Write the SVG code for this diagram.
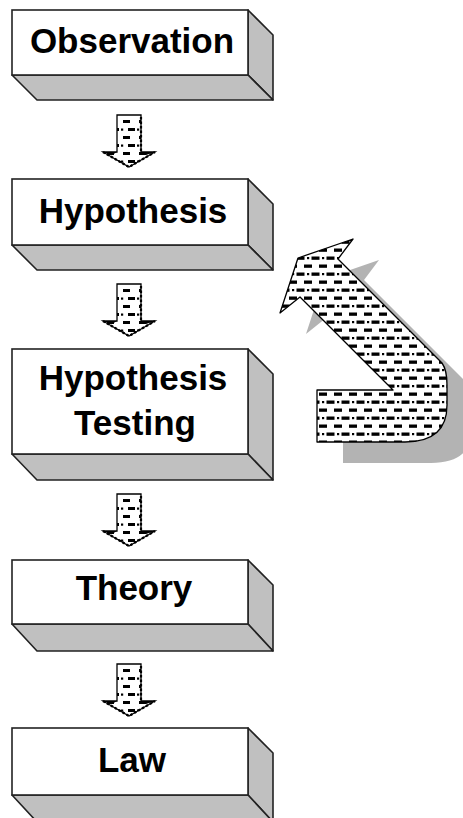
<svg xmlns="http://www.w3.org/2000/svg" width="463" height="818" viewBox="0 0 463 818">
<defs>
<style>
.front{fill:#fff;stroke:#222;stroke-width:1.6}
.side{fill:#c0c0c0;stroke:#222;stroke-width:1.6;stroke-linejoin:round}
.lbl{font-family:"Liberation Sans",Arial,sans-serif;font-weight:bold;font-size:35px;fill:#000;text-anchor:middle}
.sa{fill:url(#dashS);stroke:#000;stroke-width:1.3}
.sae{fill:none;stroke:#000;stroke-width:2.2;stroke-dasharray:2.5 2}
</style>
<pattern id="dashL" width="15" height="16" patternUnits="userSpaceOnUse" x="317" y="390">
<rect width="15" height="16" fill="#fff"/>
<rect x="2" y="2.5" width="8" height="3.3" fill="#000"/>
<rect x="9.5" y="10.5" width="5.5" height="3.3" fill="#000"/>
<rect x="0" y="10.5" width="2.5" height="3.3" fill="#000"/>
<rect x="5" y="11" width="2.2" height="2.2" fill="#000"/>
</pattern>
<pattern id="dashS" width="16" height="16" patternUnits="userSpaceOnUse" x="117" y="3">
<rect width="16" height="16" fill="#fff"/>
<rect x="5" y="2" width="7" height="3" fill="#000"/>
<rect x="10" y="10" width="6" height="3" fill="#000"/>
<rect x="0" y="10" width="1" height="3" fill="#000"/>
<rect x="3" y="10.5" width="2.2" height="2.2" fill="#000"/>
</pattern>
<g id="smallArrow">
<path class="sa" d="M -12 0 L 12 0 L 12 37 L 26 37 L 0 52 L -26 37 L -12 37 Z"/>
<path class="sae" d="M -26 37 L 0 52 L 26 37 M 12 2 L 12 36"/>
<path d="M -26 37 L -12 37 L -17 40 Z M 26 37 L 12 37 L 17 40 Z" fill="#000"/>
</g>
</defs>
<g id="connectors">
<use href="#smallArrow" x="129" y="115"/>
<use href="#smallArrow" x="129" y="284"/>
<use href="#smallArrow" x="129" y="494"/>
<use href="#smallArrow" x="129" y="664"/>
</g>
<g id="feedback-arrow">
<path transform="translate(26,21)" fill="#b3b3b3" d="M 338 259 L 353 239 L 298 258 L 280 313 L 300 297 L 393 390 L 317 390 L 317 442 L 405 442 Q 447 442 447 405 L 447 385 Q 447 370 442 363 Z"/>
<path fill="url(#dashL)" stroke="#000" stroke-width="1.3" stroke-linejoin="round" d="M 338 259 L 353 239 L 298 258 L 280 313 L 300 297 L 393 390 L 317 390 L 317 442 L 405 442 Q 447 442 447 405 L 447 385 Q 447 370 442 363 Z"/>
</g>
<g id="observation">
<polygon class="side" points="248,10 273,35 273,100 248,75"/>
<polygon class="side" points="12,75 37,100 273,100 248,75"/>
<rect class="front" x="12" y="10" width="236" height="65"/>
<text class="lbl" x="132" y="53">Observation</text>
</g>
<g id="hypothesis">
<polygon class="side" points="248,179 273,204 273,270 248,245"/>
<polygon class="side" points="12,245 37,270 273,270 248,245"/>
<rect class="front" x="12" y="179" width="236" height="66"/>
<text class="lbl" x="133" y="223">Hypothesis</text>
</g>
<g id="hypothesis-testing">
<polygon class="side" points="248,349 273,374 273,480 248,454"/>
<polygon class="side" points="12,454 37,480 273,480 248,454"/>
<rect class="front" x="12" y="349" width="236" height="105"/>
<text class="lbl" x="133" y="390">Hypothesis</text>
<text class="lbl" x="135" y="435">Testing</text>
</g>
<g id="theory">
<polygon class="side" points="248,560 273,585 273,651 248,624"/>
<polygon class="side" points="12,624 37,651 273,651 248,624"/>
<rect class="front" x="12" y="560" width="236" height="64"/>
<text class="lbl" x="134" y="600">Theory</text>
</g>
<g id="law">
<polygon class="side" points="248,728 273,753 273,822 248,795"/>
<polygon class="side" points="12,795 37,822 273,822 248,795"/>
<rect class="front" x="12" y="728" width="236" height="67"/>
<text class="lbl" x="132" y="772">Law</text>
</g>
</svg>
